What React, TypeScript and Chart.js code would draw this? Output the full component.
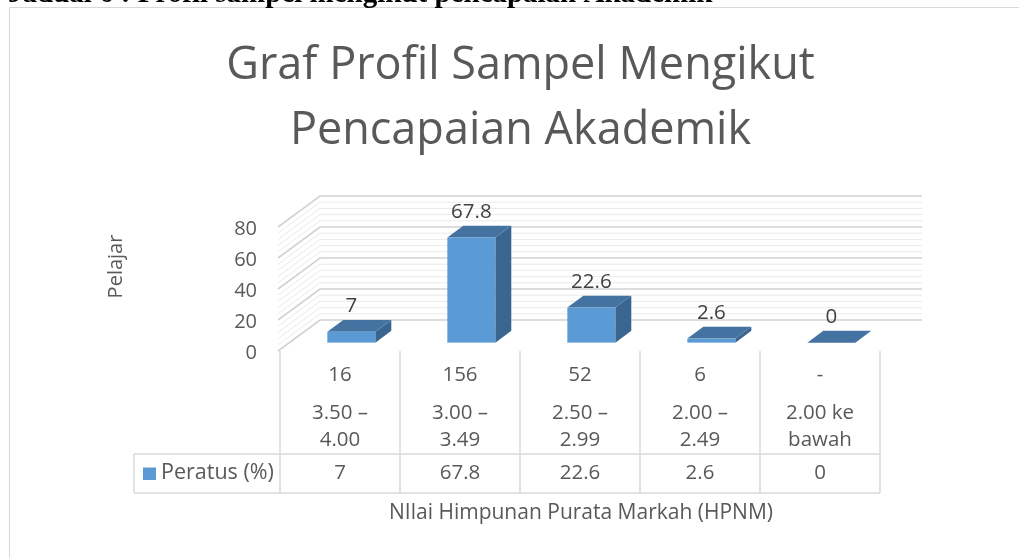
import React, { useEffect, useRef } from 'react';
import { Chart, registerables } from 'chart.js';

Chart.register(...registerables);

// ---------- data ----------
const headingText = 'Jadual 6 : Profil sampel mengikut pencapaian Akademik';
const titleLines = ['Graf Profil Sampel Mengikut', 'Pencapaian Akademik'];
const yAxisTitle = 'Pelajar';
const xAxisTitle = 'NIlai Himpunan Purata Markah (HPNM)';
const seriesName = 'Peratus (%)';
const studentCounts = ['16', '156', '52', '6', '-'];
const hpnmRanges = [
  ['3.50 –', '4.00'],
  ['3.00 –', '3.49'],
  ['2.50 –', '2.99'],
  ['2.00 –', '2.49'],
  ['2.00 ke', 'bawah'],
];
const peratus = [7, 67.8, 22.6, 2.6, 0];
const peratusLabels = ['7', '67.8', '22.6', '2.6', '0'];
const yTicks = [0, 20, 40, 60, 80];
const yMinorStep = 4;

// ---------- style ----------
const FONT = '"Open Sans", sans-serif';
const TEXT = '#595959';
const LABEL = '#404040';
const GRID_MAJOR = '#D2D2D2';
const GRID_MINOR = '#EAEAEA';
const TABLE_LINE = '#D9D9D9';
const FRONT = '#5B9BD5';
const TOP = '#4473A1';
const SIDE = '#3A658F';
const DEPTH_X = 42;
const DEPTH_Y = 31;
const BAR_D0 = 0.27;
const BAR_D1 = 0.65;

const excel3d = {
  id: 'excel3d',
  beforeDatasetsDraw(chart: any) {
    const ctx: CanvasRenderingContext2D = chart.ctx;
    const ys = chart.scales.y;
    const area = chart.chartArea;
    const L = area.left;
    const R = area.right;
    const B = area.bottom;
    const wallX = L - 2;

    ctx.save();

    // outer chart border
    ctx.strokeStyle = TABLE_LINE;
    ctx.lineWidth = 1;
    ctx.strokeRect(9.5, 7.5, 1100, 700);

    // document heading (cut off at top)
    ctx.fillStyle = '#000';
    ctx.font = 'bold 29px "Liberation Serif", serif';
    ctx.textAlign = 'left';
    ctx.textBaseline = 'alphabetic';
    ctx.fillText(headingText, 8, 1.5);

    // title
    ctx.fillStyle = TEXT;
    ctx.font = `45px ${FONT}`;
    ctx.textAlign = 'center';
    ctx.fillText(titleLines[0], 520.5, 78.5);
    ctx.fillText(titleLines[1], 520.5, 143.5);

    // walls: left side wall + back wall
    const vals: number[] = [];
    for (let v = yTicks[0]; v <= yTicks[yTicks.length - 1]; v += yMinorStep) vals.push(v);
    for (const major of [false, true]) {
      for (const v of vals) {
        const isMajor = yTicks.includes(v);
        if (isMajor !== major) continue;
        const y = ys.getPixelForValue(v);
        ctx.beginPath();
        ctx.moveTo(wallX, y);
        ctx.lineTo(wallX + DEPTH_X, y - DEPTH_Y);
        ctx.lineTo(R + DEPTH_X, y - DEPTH_Y);
        ctx.strokeStyle = major ? GRID_MAJOR : GRID_MINOR;
        ctx.lineWidth = major ? 1.6 : 1;
        ctx.stroke();
      }
    }

    // y tick labels
    ctx.fillStyle = TEXT;
    ctx.font = `20px ${FONT}`;
    ctx.textAlign = 'right';
    ctx.textBaseline = 'middle';
    for (const v of yTicks) {
      ctx.fillText(String(v), 257, ys.getPixelForValue(v) + 2);
    }

    // y axis title
    ctx.save();
    ctx.translate(116, 266.5);
    ctx.rotate(-Math.PI / 2);
    ctx.textAlign = 'center';
    ctx.textBaseline = 'middle';
    ctx.fillText(yAxisTitle, 0, 0);
    ctx.restore();

    // 3D bars
    const meta = chart.getDatasetMeta(0);
    const ddx = DEPTH_X * (BAR_D1 - BAR_D0);
    const ddy = -DEPTH_Y * (BAR_D1 - BAR_D0);
    const poly = (pts: number[][]) => {
      ctx.beginPath();
      ctx.moveTo(pts[0][0], pts[0][1]);
      for (let k = 1; k < pts.length; k++) ctx.lineTo(pts[k][0], pts[k][1]);
      ctx.closePath();
      ctx.fill();
    };
    meta.data.forEach((el: any, i: number) => {
      const p = el.getProps(['x', 'y', 'base', 'width'], true);
      const hw = p.width / 2;
      const fx = p.x + DEPTH_X * BAR_D0;
      const fdy = -DEPTH_Y * BAR_D0;
      const x0 = fx - hw;
      const x1 = fx + hw;
      const yTop = p.y + fdy;
      const yBot = p.base + fdy;
      ctx.fillStyle = SIDE;
      poly([[x1, yTop], [x1 + ddx, yTop + ddy], [x1 + ddx, yBot + ddy], [x1, yBot]]);
      ctx.fillStyle = TOP;
      poly([[x0, yTop], [x0 + ddx, yTop + ddy], [x1 + ddx, yTop + ddy], [x1, yTop]]);
      if (yBot - yTop > 0.5) {
        ctx.fillStyle = FRONT;
        ctx.fillRect(x0, yTop, x1 - x0, yBot - yTop);
      }
      ctx.fillStyle = LABEL;
      ctx.font = `20.5px ${FONT}`;
      ctx.textAlign = 'center';
      ctx.textBaseline = 'middle';
      ctx.fillText(peratusLabels[i], fx, yTop + ddy - 13.5);
    });

    // data table
    const n = chart.data.labels.length;
    const cw = (R - L) / n;
    const rowLineY = B + 103;
    const bottomY = B + 142;
    const tableLeft = 134;
    ctx.strokeStyle = TABLE_LINE;
    ctx.lineWidth = 1.5;
    for (let k = 0; k <= n; k++) {
      const x = L + k * cw;
      ctx.beginPath();
      ctx.moveTo(x, B);
      ctx.lineTo(x, bottomY);
      ctx.stroke();
    }
    ctx.beginPath();
    ctx.moveTo(tableLeft, rowLineY);
    ctx.lineTo(R, rowLineY);
    ctx.moveTo(tableLeft, bottomY);
    ctx.lineTo(R, bottomY);
    ctx.moveTo(tableLeft, rowLineY);
    ctx.lineTo(tableLeft, bottomY);
    ctx.stroke();

    const xs = chart.scales.x;
    ctx.fillStyle = TEXT;
    ctx.font = `20.5px ${FONT}`;
    ctx.textAlign = 'center';
    ctx.textBaseline = 'middle';
    for (let k = 0; k < n; k++) {
      const cx = xs.getPixelForValue(k);
      ctx.fillText(studentCounts[k], cx, B + 24);
      ctx.fillText(hpnmRanges[k][0], cx, B + 62);
      ctx.fillText(hpnmRanges[k][1], cx, B + 89);
      ctx.fillText(peratusLabels[k], cx, B + 122);
    }
    // legend key + series name
    ctx.fillStyle = FRONT;
    ctx.fillRect(143, B + 116.5, 13, 12.5);
    ctx.fillStyle = TEXT;
    ctx.textAlign = 'left';
    ctx.font = `21.5px ${FONT}`;
    ctx.fillText(seriesName, 161, B + 122);

    // x axis title
    ctx.textAlign = 'center';
    ctx.font = `21px ${FONT}`;
    ctx.fillText(xAxisTitle, (L + R) / 2 + 1, B + 162);

    ctx.restore();
    return false;
  },
};

export default function App() {
  const ref = useRef<HTMLCanvasElement | null>(null);
  useEffect(() => {
    if (!ref.current) return;
    const chart = new Chart(ref.current, {
      type: 'bar',
      data: {
        labels: hpnmRanges.map((r) => r.join(' ')),
        datasets: [
          {
            label: seriesName,
            data: peratus,
            backgroundColor: FRONT,
            categoryPercentage: 1,
            barPercentage: 0.4,
          },
        ],
      },
      options: {
        responsive: false,
        animation: false,
        devicePixelRatio: 1,
        events: [],
        layout: { padding: { left: 280, right: 139, top: 227, bottom: 207 } },
        scales: {
          x: { display: false },
          y: { display: false, min: 0, max: 80 },
        },
        plugins: {
          legend: { display: false },
          title: { display: false },
          tooltip: { enabled: false },
        },
      },
      plugins: [excel3d],
    } as any);
    return () => chart.destroy();
  }, []);
  return (
    <canvas
      ref={ref}
      width={1019}
      height={558}
      style={{ position: 'fixed', left: 0, top: 0, width: 1019, height: 558, display: 'block', background: '#fff' }}
    />
  );
}
